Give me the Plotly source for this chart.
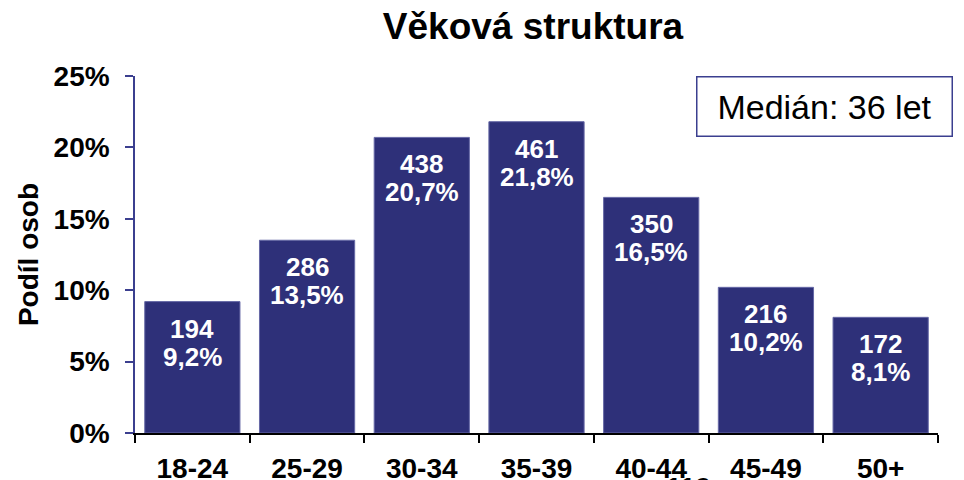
import plotly.graph_objects as go

categories = ["18-24", "25-29", "30-34", "35-39", "40-44", "45-49", "50+"]
counts = [194, 286, 438, 461, 350, 216, 172]
shares = [9.2, 13.5, 20.7, 21.8, 16.5, 10.2, 8.1]
y_ticks = [0, 5, 10, 15, 20, 25]
y_tick_labels = ["0%", "5%", "10%", "15%", "20%", "25%"]
title_text = "Věková struktura"
y_title = "Podíl osob"
median_text = "Medián: 36 let"
cut_label = "119"

FONT = "Arial, Liberation Sans, sans-serif"
NAVY = "#2E3079"
AXIS_BLUE = "#3B3F8F"

fig = go.Figure()
fig.add_trace(go.Bar(
    x=categories,
    y=shares,
    marker=dict(color=NAVY, line=dict(color="#6668A6", width=1)),
    width=0.83,
    hoverinfo="skip",
))

for c, n, s in zip(categories, counts, shares):
    fig.add_annotation(
        x=c, y=s, xref="x", yref="y",
        text=f"{n}",
        showarrow=False, yanchor="top", yshift=-10,
        font=dict(family=FONT, size=26, color="white", weight="bold"),
    )
    fig.add_annotation(
        x=c, y=s, xref="x", yref="y",
        text=f"{str(s).replace('.', ',')}%",
        showarrow=False, yanchor="top", yshift=-38,
        font=dict(family=FONT, size=26, color="white", weight="bold"),
    )

fig.add_annotation(
    xref="paper", yref="paper", x=1.0185, y=1.0, xanchor="right", yanchor="top",
    text=median_text, showarrow=False,
    font=dict(family=FONT, size=34, color="black"),
    bordercolor=AXIS_BLUE, borderwidth=1.5, borderpad=10,
    bgcolor="white", width=234,
)

# partially visible label cut off at the bottom edge in the reference
fig.add_annotation(
    xref="paper", yref="paper", x=0.689, y=-0.104, xanchor="center", yanchor="top",
    text=cut_label, showarrow=False,
    font=dict(family=FONT, size=28, color="black", weight="bold"),
)

fig.update_layout(
    width=964, height=480,
    margin=dict(l=127, r=34, t=68, b=55, autoexpand=False),
    paper_bgcolor="white", plot_bgcolor="white",
    showlegend=False,
    bargap=0.17,
    title=dict(text=title_text, x=0.5446, xanchor="center", y=0.9625, yanchor="middle",
               font=dict(family=FONT, size=37, color="black", weight="bold")),
    font=dict(family=FONT, color="black"),
)

fig.update_xaxes(
    type="category", automargin=False,
    showline=True, linecolor="black", linewidth=1.5,
    ticks="outside", ticklen=8, tickcolor="black", tickwidth=1.5,
    tickson="boundaries",
    tickfont=dict(family=FONT, size=28, color="black", weight="bold"),
    ticklabelstandoff=10,
    showgrid=False, zeroline=False,
)

fig.update_yaxes(
    range=[0, 25], automargin=False,
    tickvals=y_ticks, ticktext=y_tick_labels,
    showline=True, linecolor=AXIS_BLUE, linewidth=1.5,
    ticks="outside", ticklen=8, tickcolor=AXIS_BLUE, tickwidth=1.5,
    tickfont=dict(family=FONT, size=28, color="black", weight="bold"),
    ticklabelstandoff=10,
    showgrid=False, zeroline=False,
    title=dict(text=y_title, font=dict(family=FONT, size=28, color="black", weight="bold"), standoff=7),
)

fig.write_html("out.html")
